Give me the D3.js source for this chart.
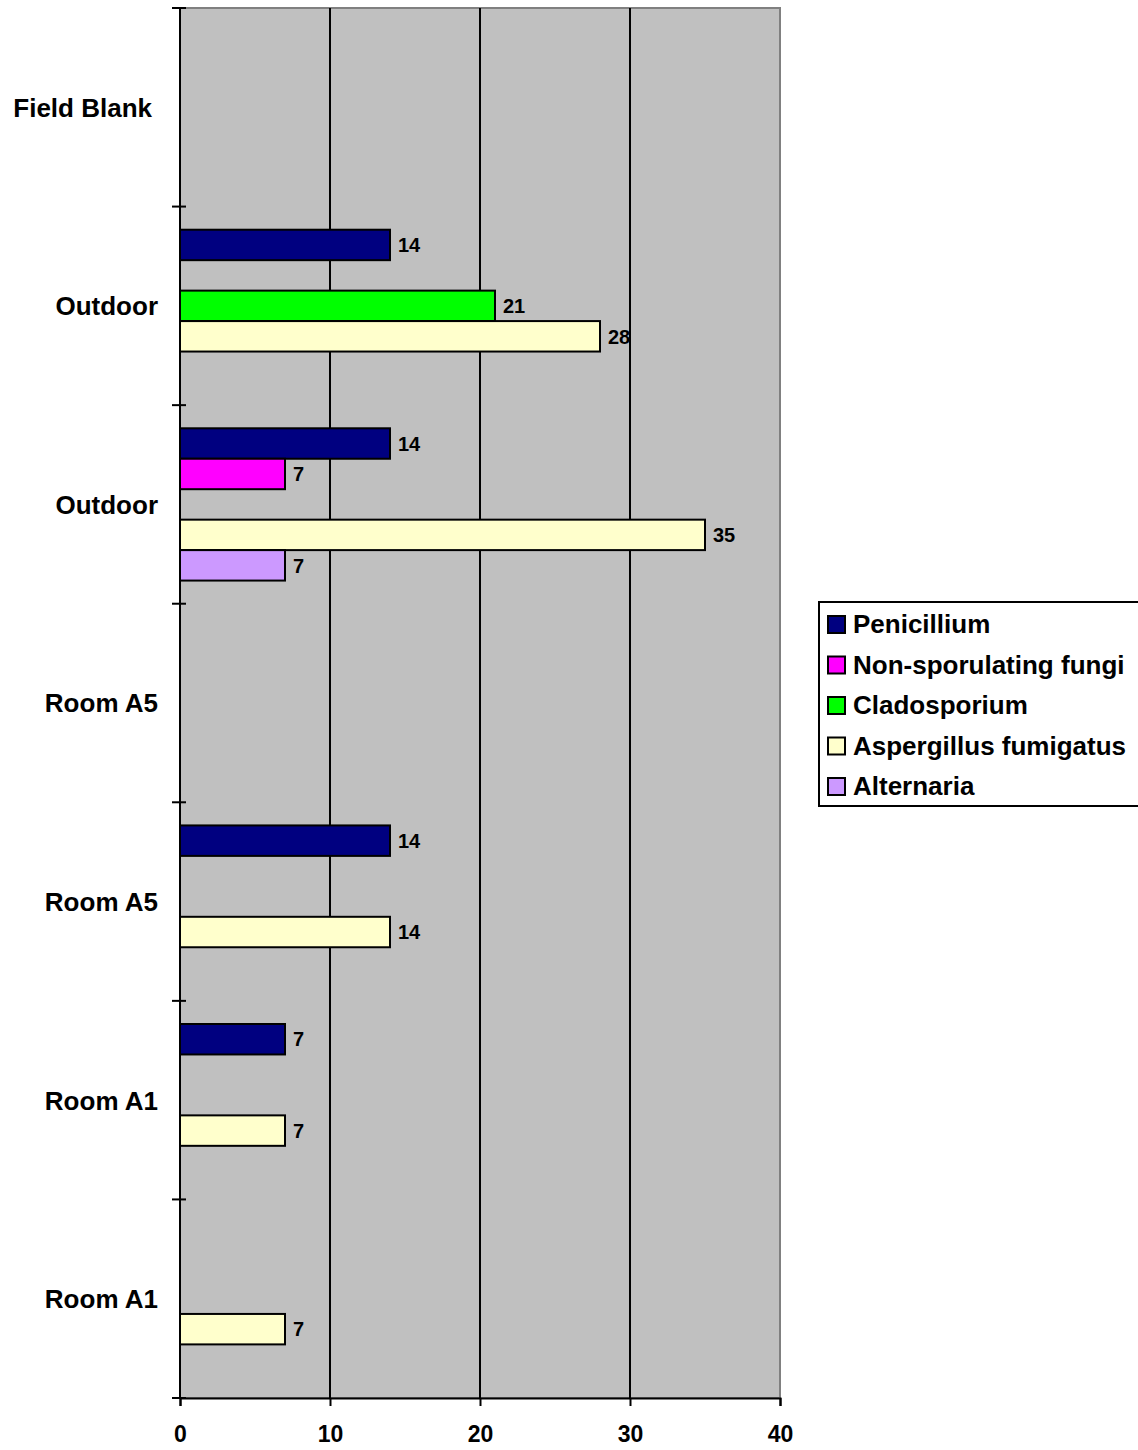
<!DOCTYPE html>
<html>
<head>
<meta charset="utf-8">
<script src="https://cdn.jsdelivr.net/npm/d3@7"></script>
<style>
  body { margin: 0; background: #fff; }
  svg { display: block; }
  text { font-family: "Liberation Sans", Arial, sans-serif; font-weight: bold; fill: #000; }
</style>
</head>
<body>
<div id="chart"></div>
<script>
// categories top to bottom, as drawn
const categories = ['Field Blank', 'Outdoor', 'Outdoor', 'Room A5', 'Room A5', 'Room A1', 'Room A1'];
const seriesNames = ['Penicillium', 'Non-sporulating fungi', 'Cladosporium', 'Aspergillus fumigatus', 'Alternaria'];
const seriesColors = ['#000080', '#FF00FF', '#00FF00', '#FFFFCC', '#CC99FF'];

// values per series, one per category (null = no bar)
const penicillium = [null, 14, 14, null, 14, 7, null];
const nonSporulating = [null, null, 7, null, null, null, null];
const cladosporium = [null, 21, null, null, null, null, null];
const aspergillus = [null, 28, 35, null, 14, 7, 7];
const alternaria = [null, null, 7, null, null, null, null];
const xTicks = [0, 10, 20, 30, 40];

const seriesValues = [penicillium, nonSporulating, cladosporium, aspergillus, alternaria];

const width = 1138;
const height = 1450;
const plot = { left: 180, right: 780, top: 8, bottom: 1398 };

const svg = d3.select('#chart')
  .append('svg')
  .attr('width', width)
  .attr('height', height);

const x = d3.scaleLinear().domain([0, 40]).range([plot.left, plot.right]);

const y = d3.scaleBand()
  .domain(d3.range(categories.length))
  .range([plot.top, plot.bottom])
  .padding(0);

const ySeries = d3.scaleBand()
  .domain(d3.range(seriesNames.length))
  .range([0, y.bandwidth()])
  .paddingInner(0)
  .paddingOuter(0.76);

// plot background
svg.append('rect')
  .attr('x', plot.left)
  .attr('y', plot.top)
  .attr('width', plot.right - plot.left)
  .attr('height', plot.bottom - plot.top)
  .attr('fill', '#C0C0C0')
  .attr('stroke', '#808080')
  .attr('stroke-width', 2);

// vertical gridlines
svg.append('g')
  .selectAll('line')
  .data(xTicks.filter((d) => d > 0 && d < 40))
  .join('line')
  .attr('x1', (d) => x(d))
  .attr('x2', (d) => x(d))
  .attr('y1', plot.top)
  .attr('y2', plot.bottom)
  .attr('stroke', '#000')
  .attr('stroke-width', 2);

// bars
const bars = [];
seriesValues.forEach((vals, s) => {
  vals.forEach((v, c) => {
    if (v != null) bars.push({ s, c, v });
  });
});

svg.append('g')
  .selectAll('rect')
  .data(bars)
  .join('rect')
  .attr('x', x(0))
  .attr('y', (d) => y(d.c) + ySeries(d.s))
  .attr('width', (d) => x(d.v) - x(0))
  .attr('height', ySeries.bandwidth())
  .attr('fill', (d) => seriesColors[d.s])
  .attr('stroke', '#000')
  .attr('stroke-width', 2);

svg.append('g')
  .selectAll('text')
  .data(bars)
  .join('text')
  .attr('x', (d) => x(d.v) + 8)
  .attr('y', (d) => y(d.c) + ySeries(d.s) + ySeries.bandwidth() / 2)
  .attr('dy', '0.36em')
  .attr('font-size', 20)
  .text((d) => d.v);

// left axis
const yAxis = svg.append('g').attr('transform', `translate(${plot.left},0)`);
yAxis.append('line')
  .attr('x1', 0).attr('x2', 0)
  .attr('y1', plot.top).attr('y2', plot.bottom)
  .attr('stroke', '#000').attr('stroke-width', 2);
yAxis.selectAll('line.tick')
  .data(d3.range(categories.length + 1))
  .join('line')
  .attr('class', 'tick')
  .attr('x1', -8).attr('x2', 6)
  .attr('y1', (i) => plot.top + i * y.step())
  .attr('y2', (i) => plot.top + i * y.step())
  .attr('stroke', '#000').attr('stroke-width', 2);

svg.append('g')
  .selectAll('text')
  .data(categories)
  .join('text')
  .attr('x', (d, i) => (i === 0 ? 152 : 158))
  .attr('y', (d, i) => y(i) + y.bandwidth() / 2)
  .attr('dy', '0.36em')
  .attr('text-anchor', 'end')
  .attr('font-size', 26)
  .text((d) => d);

// bottom axis
const xAxis = svg.append('g')
  .attr('transform', `translate(0,${plot.bottom})`)
  .call(d3.axisBottom(x).tickValues(xTicks).tickSize(8).tickPadding(20));
xAxis.select('.domain').attr('stroke', '#000').attr('stroke-width', 2);
xAxis.selectAll('.tick line').attr('stroke', '#000').attr('stroke-width', 2);
xAxis.selectAll('.tick text')
  .attr('font-size', 23)
  .attr('font-family', '"Liberation Sans", Arial, sans-serif')
  .attr('font-weight', 'bold')
  .attr('fill', '#000');

// legend
const legend = svg.append('g').attr('transform', 'translate(819,602)');
legend.append('rect')
  .attr('width', 340)
  .attr('height', 204)
  .attr('fill', '#fff')
  .attr('stroke', '#000')
  .attr('stroke-width', 2);

const item = legend.selectAll('g.item')
  .data(seriesNames)
  .join('g')
  .attr('class', 'item')
  .attr('transform', (d, i) => `translate(9,${22 + i * 40.5})`);

item.append('rect')
  .attr('x', 0)
  .attr('y', -8)
  .attr('width', 17)
  .attr('height', 17)
  .attr('fill', (d, i) => seriesColors[i])
  .attr('stroke', '#000')
  .attr('stroke-width', 2);

item.append('text')
  .attr('x', 25)
  .attr('dy', '0.36em')
  .attr('font-size', 26)
  .text((d) => d);
</script>
</body>
</html>
